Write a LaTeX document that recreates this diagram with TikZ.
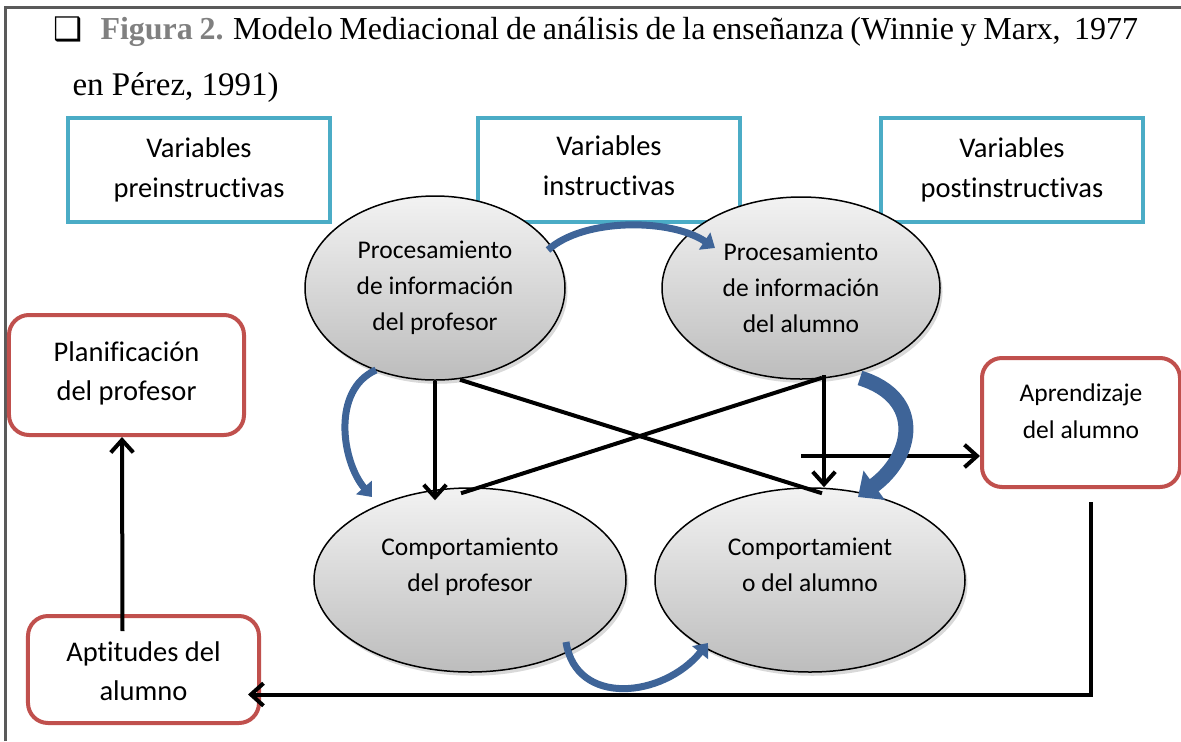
\documentclass[tikz,border=0pt]{standalone}
\usepackage{fontspec}
\setmainfont{Liberation Serif}
\newfontfamily\calibri[Ligatures=NoCommon]{Carlito}
\newfontfamily\dejavu{DejaVu Sans}
\usetikzlibrary{shapes.geometric, arrows.meta, calc, shadows}
\definecolor{frameline}{RGB}{90,90,90}
\definecolor{varblue}{RGB}{75,172,198}
\definecolor{boxred}{RGB}{192,80,77}
\definecolor{flowblue}{RGB}{62,100,152}
\definecolor{figgray}{RGB}{128,128,128}
\tikzstyle{varbox} = [rectangle, draw=varblue, line width=1.6pt, fill=white, minimum width=104.8pt, minimum height=41.6pt, align=center, font=\calibri\fontsize{11.4}{16}\selectfont]
\tikzstyle{outbox} = [rectangle, rounded corners=8pt, draw=boxred, line width=1.6pt, fill=white, align=center, font=\calibri\fontsize{11.4}{15.5}\selectfont]
\tikzstyle{procnode} = [ellipse, draw=black, line width=0.6pt, top color=black!5, bottom color=black!26, drop shadow={shadow xshift=1pt, shadow yshift=-1.5pt, opacity=0.3}, inner sep=0pt, align=center, font=\calibri\fontsize{10.2}{14.4}\selectfont]
\tikzstyle{arrow} = [line width=1.6pt, -{Straight Barb[length=5pt,width=9pt]}, draw=black]
\tikzstyle{crossline} = [line width=1.6pt, draw=black]
\tikzstyle{flowarrow} = [line width=2.8pt, draw=flowblue, -{Triangle[length=5pt,width=8pt]}]
\tikzstyle{bigflowarrow} = [line width=6pt, draw=flowblue, -{Triangle[length=8pt,width=14pt]}]
\newcommand{\liftup}[2]{\raisebox{#1}[\height][\depth]{\begin{tabular}{@{}c@{}}#2\end{tabular}}}

\begin{document}
\begin{tikzpicture}[x=0.4pt, y=-0.4pt]
  \useasboundingbox (0,0) rectangle (1181,741);
  \draw [frameline, line width=1.2pt] (5,741) -- (5,7) -- (1181,7);
  % Title
  \node (bullet) at (68,29) {\dejavu\fontsize{13}{13}\selectfont ❑};
  \node (title1) [anchor=base west, inner sep=0pt] at (100,39)
        {\fontsize{12.8}{15}\selectfont\spaceskip=.22em plus .3em minus .05em
         \makebox[415pt][s]{\textcolor{figgray}{\textbf{Figura 2.}} Modelo Mediacional de análisis de la enseñanza (Winnie y Marx, \ 1977}};
  \node (title2) [anchor=base west, inner sep=0pt] at (72,95)
        {\fontsize{13.2}{15}\selectfont en Pérez, 1991)};
  % Variables
  \node (pre)  [varbox] at (199,170) {Variables\\preinstructivas};
  \node (ins)  [varbox] at (609,170) {\liftup{1.2pt}{Variables\\instructivas}};
  \node (post) [varbox] at (1012,170) {Variables\\postinstructivas};
  % Processes
  \node (tl) [procnode, minimum width=104pt, minimum height=73.6pt] at (435,288)
        {Procesamiento\\de información\\del profesor};
  \node (tr) [procnode, minimum width=111.2pt, minimum height=72.8pt] at (801,288)
        {Procesamiento\\de información\\del alumno};
  \node (bl) [procnode, minimum width=124.8pt, minimum height=73.6pt] at (470,580)
        {\liftup{5.4pt}{Comportamiento\\del profesor}};
  \node (br) [procnode, minimum width=124pt, minimum height=73.6pt] at (810,580)
        {\liftup{5.4pt}{Comportamient\\o del alumno}};
  % Outcomes
  \node (plan)   [outbox, minimum width=94pt, minimum height=48pt] at (126.5,375)
        {\liftup{0.8pt}{Planificación\\del profesor}};
  \node (aprend) [outbox, minimum width=79.2pt, minimum height=51.6pt, font=\calibri\fontsize{10.2}{14.8}\selectfont] at (1081,422.5)
        {\liftup{3.8pt}{Aprendizaje\\del alumno}};
  \node (apt)    [outbox, minimum width=92.4pt, minimum height=42.8pt] at (143.5,669.5)
        {\liftup{-1.6pt}{Aptitudes del\\alumno}};
  % Black connectors
  \draw [arrow] (tl.south) -- ($(tl.south |- bl.north)+(0,13)$);
  \draw [arrow] ($(tr.south)+(23,-5)$) -- ($(br.north)+(14,0)$);
  \draw [crossline] ($(tl.south)+(25,-1)$) -- ($(br.north)+(12,6)$);
  \draw [crossline] ($(tr.south)+(21,-2)$) -- ($(bl.north)+(-9,6)$);
  \coordinate (hstart) at (801,456);
  \draw [arrow] (hstart) -- (hstart -| aprend.west);
  \draw [arrow] ($(apt.north)+(-21,17)$) -- ($(plan.south)+(-4.5,0)$);
  \coordinate (fbstart) at ($(aprend.south)+(10,13)$);
  \draw [arrow] (fbstart) |- ($(apt.east)+(-13,25)$);
  % Blue curved arrows
  \draw [flowarrow] ($(tl.center)+(113,-38)$) .. controls +(35,-32) and +(-45,-30) .. ($(tr.center)+(-86,-40)$);
  \draw [flowarrow] ($(tl.center)+(-59,82)$) .. controls +(-45,20) and +(-30,-35) .. ($(bl.center)+(-98,-83)$);
  \draw [bigflowarrow] ($(tr.center)+(59,90)$) .. controls +(65,20) and +(55,-40) .. ($(br.center)+(48,-83)$);
  \draw [flowarrow] ($(bl.center)+(96,62)$) .. controls +(10,65) and +(-45,55) .. ($(br.center)+(-102,63)$);
\end{tikzpicture}
\end{document}
